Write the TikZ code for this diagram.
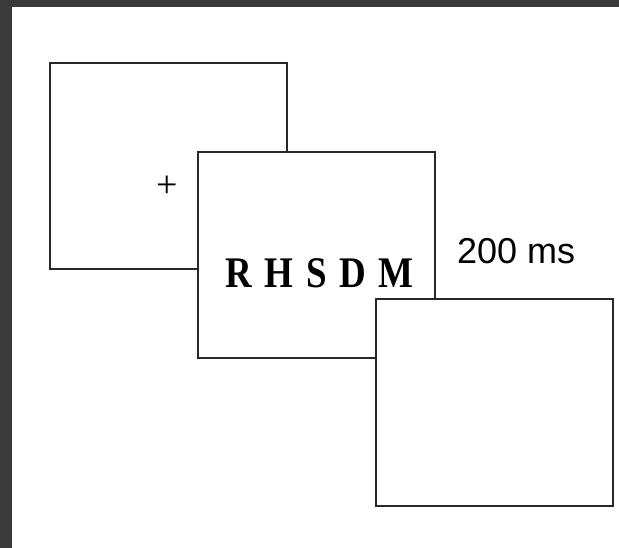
\documentclass[tikz,border=0pt]{standalone}
\usepackage{fontspec}
\usepackage{graphicx}
\newfontfamily\labelfont{Liberation Sans}
\newfontfamily\stimfont{Liberation Serif}
\usetikzlibrary{positioning}
\definecolor{slate}{RGB}{58,58,58}
\definecolor{ink}{RGB}{40,40,40}

\begin{document}
\begin{tikzpicture}[x=1pt,y=-1pt,
    screen/.style={draw=ink,line width=2pt,fill=white,minimum width=237pt,minimum height=206pt,inner sep=0pt}]
        \useasboundingbox (0,0) rectangle (619,548);
        \fill[slate] (0,0) rectangle (619,7);
        \fill[slate] (0,0) rectangle (12,548);
        \node[screen] (fixscreen) at (168.5,166) {};
        \node[screen] (stimscreen) at (316.5,255) {};
        \node[screen] (blankscreen) at (494,402.5) {};
        \node[font=\stimfont\fontsize{38}{38}\selectfont,inner sep=0pt] (cross) at (167,187) {+};
        \node[font=\stimfont\bfseries\fontsize{37}{37}\selectfont,anchor=base,inner sep=0pt] (letters) at (319.5,288) {\scalebox{1}[1.18]{\spaceskip=12.5pt\relax R H S D M}};
        \node[font=\labelfont\fontsize{36}{36}\selectfont,anchor=base west,inner sep=0pt] (duration) at (457,264) {200 ms};
      \end{tikzpicture}
\end{document}
